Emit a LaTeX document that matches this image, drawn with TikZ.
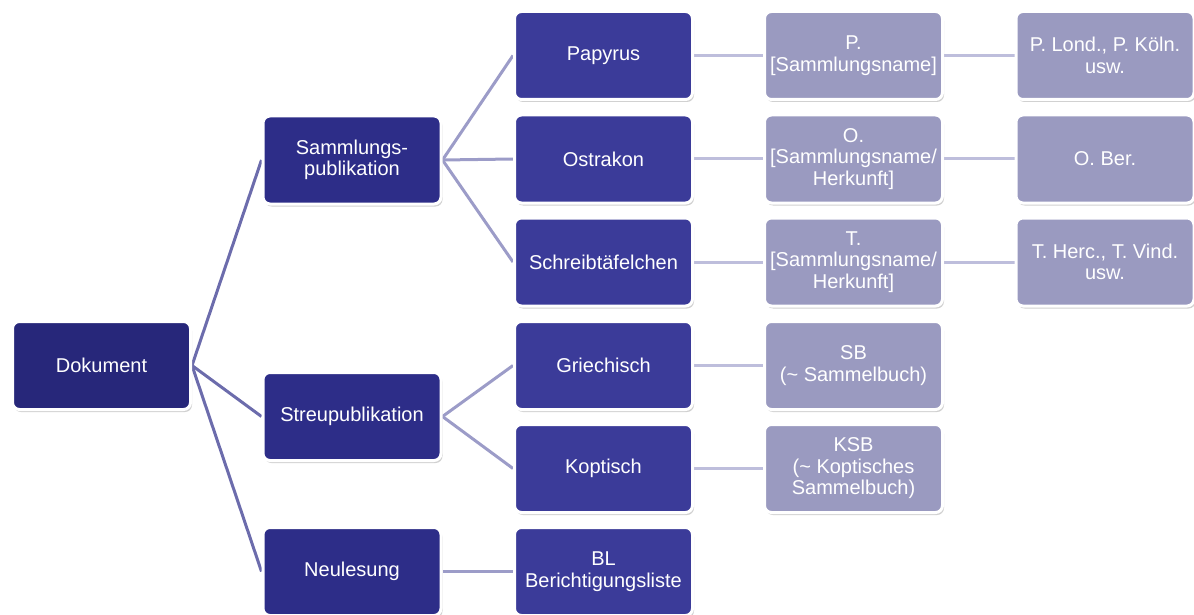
\documentclass[tikz,border=0pt]{standalone}
\usepackage{fontspec}
\setmainfont{Liberation Sans}
\usetikzlibrary{shadows,backgrounds}
\definecolor{cRoot}{HTML}{27277A}
\definecolor{cOne}{HTML}{2D2D88}
\definecolor{cTwo}{HTML}{3B3B99}
\definecolor{cThree}{HTML}{9A9AC0}
\definecolor{lOne}{HTML}{6C6CAC}
\definecolor{lTwo}{HTML}{9C9CC8}
\definecolor{lThree}{HTML}{BEBEDC}
\tikzset{
  box/.style={draw=white, line width=3pt, rounded corners=7pt, minimum width=178pt, minimum height=88pt,
    inner sep=1pt, align=center, text=white, font=\fontsize{20}{21.5}\selectfont,
    drop shadow={shadow xshift=1.5pt, shadow yshift=-2.5pt, opacity=0.3, fill=black!60}},
  rootbox/.style={box, fill=cRoot},
  onebox/.style={box, fill=cOne},
  twobox/.style={box, fill=cTwo},
  threebox/.style={box, fill=cThree},
  conA/.style={draw=lOne, line width=3pt},
  conB/.style={draw=lTwo, line width=3pt},
  conC/.style={draw=lThree, line width=3pt},
}
\begin{document}
\begin{tikzpicture}[x=1pt, y=-1pt]
\useasboundingbox (0,0) rectangle (1194,615);
% nodes
\node[rootbox] (dok) at (101.5,365.5) {Dokument};
\node[onebox] (samm) at (352,160) {Sammlungs-\\publikation};
\node[onebox] (streu) at (352,416.5) {Streupublikation};
\node[onebox] (neu) at (352,571.5) {Neulesung};
\node[twobox] (pap) at (603.5,55.5) {Papyrus};
\node[twobox] (ostr) at (603.5,159) {Ostrakon};
\node[twobox] (schr) at (603.5,262) {Schreibtäfelchen};
\node[twobox] (gr) at (603.5,365.5) {Griechisch};
\node[twobox] (kopt) at (603.5,468.5) {Koptisch};
\node[twobox] (bl) at (603.5,571.5) {BL\\Berichtigungsliste};
\node[threebox] (p) at (853.5,55.5) {P.\\{}[Sammlungsname]};
\node[threebox] (o) at (853.5,159) {O.\\{}[Sammlungsname/\\Herkunft]};
\node[threebox] (t) at (853.5,262) {T.\\{}[Sammlungsname/\\Herkunft]};
\node[threebox] (sb) at (853.5,365.5) {SB\\(\textasciitilde{} Sammelbuch)};
\node[threebox] (ksb) at (853.5,468.5) {KSB\\(\textasciitilde{} Koptisches\\Sammelbuch)};
\node[threebox] (pl) at (1105,55.5) {P. Lond., P. Köln.\\usw.};
\node[threebox] (ob) at (1105,159) {O. Ber.};
\node[threebox] (th) at (1105,262) {T. Herc., T. Vind.\\usw.};
% connectors
\begin{scope}[on background layer]
\path[conA] (dok.east) -- (samm.west);
\path[conA] (dok.east) -- (streu.west);
\path[conA] (dok.east) -- (neu.west);
\path[conB] (samm.east) -- (pap.west);
\path[conB] (samm.east) -- (ostr.west);
\path[conB] (samm.east) -- (schr.west);
\path[conB] (streu.east) -- (gr.west);
\path[conB] (streu.east) -- (kopt.west);
\path[conB] (neu.east) -- (bl.west);
\path[conC] (pap.east) -- (p.west);
\path[conC] (ostr.east) -- (o.west);
\path[conC] (schr.east) -- (t.west);
\path[conC] (gr.east) -- (sb.west);
\path[conC] (kopt.east) -- (ksb.west);
\path[conC] (p.east) -- (pl.west);
\path[conC] (o.east) -- (ob.west);
\path[conC] (t.east) -- (th.west);
\end{scope}
\end{tikzpicture}
\end{document}
